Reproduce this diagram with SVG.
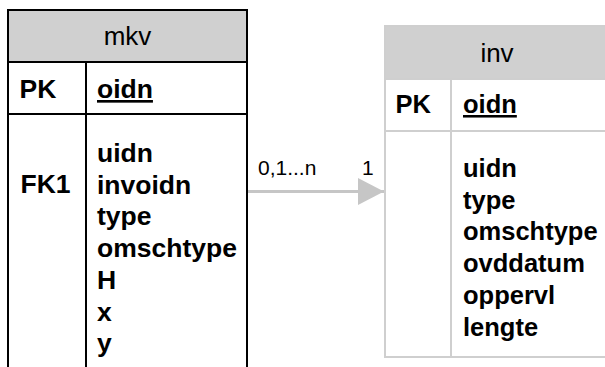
<svg xmlns="http://www.w3.org/2000/svg" width="605" height="367" viewBox="0 0 605 367">
  <style>
    .hdr { fill: #d0d0d0; }
    .mkv-line { fill: none; stroke: #000; stroke-width: 2; }
    .inv-line { fill: none; stroke: #cfcfcf; stroke-width: 2; }
    .title { font-family: "Liberation Sans", Arial, sans-serif; font-size: 26px; fill: #000; text-anchor: middle; }
    .key { font-family: "Liberation Sans", Arial, sans-serif; font-size: 26.5px; font-weight: bold; fill: #000; }
    #inv .key { font-size: 25.5px; }
    .pk { text-decoration: underline; }
    .card { font-family: "Liberation Sans", Arial, sans-serif; font-size: 21px; fill: #000; }
    .conn { stroke: #c6c6c6; stroke-width: 3; fill: none; }
  </style>
  <defs>
    <marker id="arrow" markerUnits="userSpaceOnUse" markerWidth="27" markerHeight="27" refX="26" refY="13.5" orient="auto">
      <path d="M0,0 L26,13.5 L0,27 Z" fill="#c6c6c6"/>
    </marker>
  </defs>
  <rect x="0" y="0" width="605" height="367" fill="#fff"/>

  <!-- entity mkv -->
  <g id="mkv">
    <rect class="hdr" x="8" y="10" width="239" height="52"/>
    <path class="mkv-line" d="M8,380 V10 H247 V380 M8,62 H247 M8,114 H247 M86,62 V380"/>
    <text class="title" x="127.5" y="45">mkv</text>
    <text class="key" x="19.5" y="98">PK</text>
    <text class="key pk" x="97" y="98">oidn</text>
    <text class="key" x="20.5" y="193">FK1</text>
    <text class="key" x="97">
      <tspan x="97" y="162">uidn</tspan>
      <tspan x="97" y="193.7">invoidn</tspan>
      <tspan x="97" y="225.4">type</tspan>
      <tspan x="97" y="257.1">omschtype</tspan>
      <tspan x="97" y="288.8">H</tspan>
      <tspan x="97" y="320.5">x</tspan>
      <tspan x="97" y="352.2">y</tspan>
    </text>
  </g>

  <!-- entity inv -->
  <g id="inv">
    <rect class="hdr" x="385" y="26" width="230" height="53"/>
    <path class="inv-line" d="M615,26 H385 V357 H615 M385,79 H615 M385,131 H615 M451,79 V357"/>
    <text class="title" x="497" y="62">inv</text>
    <text class="key" x="395.5" y="113">PK</text>
    <text class="key pk" x="463" y="113">oidn</text>
    <text class="key">
      <tspan x="463" y="177">uidn</tspan>
      <tspan x="463" y="208.7">type</tspan>
      <tspan x="463" y="240.4">omschtype</tspan>
      <tspan x="463" y="272.1">ovddatum</tspan>
      <tspan x="463" y="303.8">oppervl</tspan>
      <tspan x="463" y="335.5">lengte</tspan>
    </text>
  </g>

  <!-- relationship mkv -> inv -->
  <g id="connectors">
    <line class="conn" x1="248" y1="191.5" x2="384" y2="191.5" marker-end="url(#arrow)"/>
    <text class="card" x="258" y="175">0,1...n</text>
    <text class="card" x="362" y="175">1</text>
  </g>
</svg>
